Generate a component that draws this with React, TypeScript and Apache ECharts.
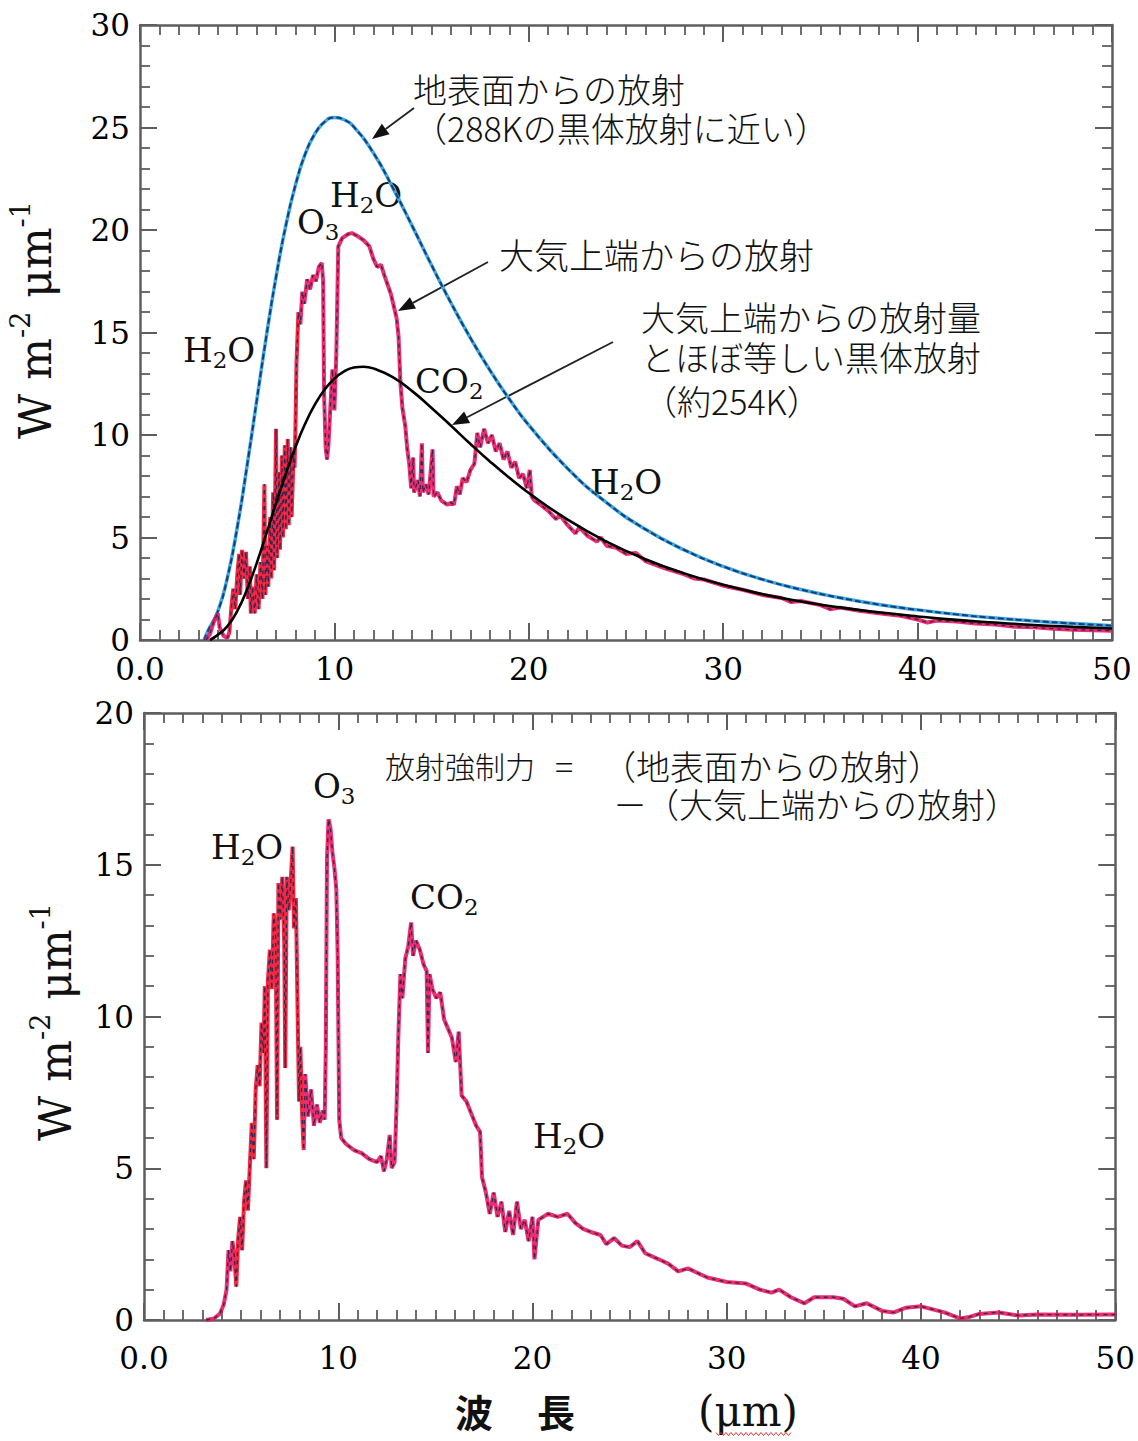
import React, { useEffect, useRef } from 'react';
import * as echarts from 'echarts';

// ---------- data (wavelength μm, W m-2 μm-1) ----------
const surfaceEmission288K: [number, number][] = [
  [3.3, 0], [3.5, 0.45], [4, 1.38], [4.5, 3.06], [5, 5.48], [5.5, 8.45], [6, 11.65], [6.5, 14.82],
  [7, 17.72], [7.5, 20.21], [8, 22.2], [8.5, 23.71], [9, 24.7], [9.5, 25.28], [10, 25.49], [10.5, 25.38],
  [11, 25.03], [12, 23.77], [13, 22.07], [14, 20.2], [15, 18.28], [16, 16.44], [17, 14.73], [18, 13.16],
  [19, 11.75], [20, 10.48], [22, 8.36], [24, 6.7], [26, 5.4], [28, 4.39], [30, 3.59], [32, 2.96],
  [34, 2.46], [36, 2.06], [38, 1.73], [40, 1.47], [42, 1.25], [44, 1.07], [46, 0.93], [48, 0.8], [50, 0.7],
];

const blackbody254K: [number, number][] = [
  [3.6, 0], [4, 0.25], [4.5, 0.68], [5, 1.41], [5.5, 2.45], [6, 3.74], [6.5, 5.19], [7, 6.68],
  [7.5, 8.11], [8, 9.42], [8.5, 10.56], [9, 11.49], [9.5, 12.22], [10, 12.75], [10.5, 13.1], [11, 13.29],
  [11.5, 13.33], [12, 13.25], [13, 12.82], [14, 12.14], [15, 11.32], [16, 10.45], [17, 9.56], [18, 8.71],
  [19, 7.91], [20, 7.17], [22, 5.87], [24, 4.8], [26, 3.94], [28, 3.25], [30, 2.69], [32, 2.24],
  [34, 1.88], [36, 1.59], [38, 1.35], [40, 1.15], [42, 0.98], [44, 0.85], [46, 0.73], [48, 0.64], [50, 0.56],
];

const toaEmission: [number, number][] = [
  [3.4, 0], [3.6, 0.3], [3.8, 0.9], [4.0, 1.3], [4.1, 0.6], [4.3, 0.2], [4.5, 0.1], [4.6, 0.4],
  [4.7, 1.6], [4.8, 2.5], [4.9, 1.5], [5.0, 3.1], [5.1, 4.2], [5.15, 2.2], [5.25, 4.4], [5.35, 3.0],
  [5.45, 4.3], [5.55, 2.0], [5.65, 3.6], [5.7, 1.3], [5.8, 2.6], [5.9, 1.3], [6.0, 3.2], [6.1, 1.5],
  [6.2, 3.8], [6.3, 2.0], [6.4, 7.6], [6.45, 2.2], [6.55, 4.6], [6.6, 2.6], [6.7, 6.0], [6.75, 3.0],
  [6.85, 7.2], [6.9, 3.4], [7.0, 10.3], [7.05, 4.0], [7.15, 8.2], [7.2, 4.4], [7.3, 9.0], [7.35, 5.0],
  [7.45, 9.5], [7.5, 5.4], [7.6, 9.8], [7.65, 5.6], [7.75, 9.4], [7.8, 6.0], [7.9, 9.0], [7.95, 8.4],
  [8.0, 10.5], [8.05, 13.5], [8.15, 16.0], [8.25, 15.4], [8.35, 17.0], [8.45, 16.4], [8.6, 17.6], [8.75, 17.1],
  [8.9, 17.8], [9.05, 17.5], [9.2, 18.2], [9.35, 18.4], [9.42, 17.5], [9.47, 12.0], [9.55, 9.4], [9.62, 8.8],
  [9.7, 9.6], [9.8, 11.5], [9.9, 13.2], [10.0, 11.2], [10.1, 14.0], [10.2, 19.2], [10.4, 19.6], [10.7, 19.8],
  [10.9, 19.85], [11.2, 19.7], [11.5, 19.5], [11.8, 19.2], [12.0, 18.6], [12.2, 18.2], [12.4, 18.3], [12.6, 17.7],
  [12.9, 16.9], [13.2, 15.7], [13.3, 14.8], [13.4, 12.5], [13.5, 11.3], [13.65, 10.4], [13.75, 9.3], [13.85, 8.6],
  [13.95, 7.4], [14.05, 8.9], [14.1, 7.2], [14.3, 7.8], [14.4, 7.0], [14.5, 9.6], [14.55, 7.2], [14.7, 7.6],
  [14.85, 7.1], [15.05, 9.3], [15.1, 7.0], [15.3, 7.2], [15.5, 6.8], [15.8, 6.6], [16.0, 6.7], [16.15, 6.6],
  [16.3, 7.5], [16.45, 7.1], [16.6, 7.9], [16.8, 7.7], [17.0, 8.3], [17.2, 8.6], [17.35, 10.1], [17.5, 9.4],
  [17.7, 10.3], [17.9, 9.6], [18.1, 10.0], [18.3, 9.2], [18.5, 9.6], [18.7, 8.8], [18.9, 9.2], [19.1, 8.4],
  [19.3, 8.7], [19.5, 7.9], [19.7, 8.1], [19.9, 7.4], [20.05, 8.3], [20.15, 7.0], [20.3, 6.8], [20.6, 6.6],
  [21.0, 6.3], [21.4, 5.9], [21.6, 6.1], [22.0, 5.6], [22.4, 5.2], [22.6, 5.5], [23.0, 5.1], [23.5, 4.8],
  [23.7, 5.0], [24.0, 4.6], [24.5, 4.5], [25.0, 4.2], [25.5, 4.25], [26.0, 3.85], [27.0, 3.5], [28.0, 3.2],
  [28.5, 3.0], [29.0, 2.95], [30.0, 2.65], [31.0, 2.45], [32.0, 2.2], [33.0, 2.05], [33.5, 1.85], [34.0, 1.9],
  [35.0, 1.7], [35.5, 1.5], [36.0, 1.58], [37.0, 1.42], [38.0, 1.3], [39.0, 1.2], [40.0, 1.0], [40.5, 0.85],
  [41.0, 0.95], [42.0, 0.9], [43.0, 0.8], [44.0, 0.75], [45.0, 0.65], [46.0, 0.62], [47.0, 0.55], [48.0, 0.5],
  [49.0, 0.48], [50.0, 0.45],
];

const radiativeForcing: [number, number][] = [
  [3.2, 0], [3.6, 0.05], [3.9, 0.2], [4.1, 0.5], [4.25, 1.0], [4.35, 2.3], [4.45, 1.6], [4.55, 2.6],
  [4.65, 2.1], [4.75, 1.1], [4.85, 2.7], [4.95, 3.4], [5.05, 2.3], [5.15, 3.9], [5.25, 4.6], [5.35, 3.6],
  [5.45, 5.1], [5.55, 6.5], [5.65, 5.3], [5.75, 7.6], [5.85, 8.4], [5.95, 7.7], [6.05, 9.8], [6.15, 8.8],
  [6.22, 11.0], [6.3, 5.0], [6.38, 11.2], [6.48, 12.2], [6.58, 10.9], [6.68, 13.4], [6.78, 12.6], [6.85, 6.6],
  [6.92, 14.4], [7.02, 13.2], [7.12, 14.6], [7.22, 12.4], [7.27, 8.3], [7.35, 14.6], [7.45, 13.5], [7.55, 14.4],
  [7.65, 15.6], [7.72, 12.9], [7.82, 13.9], [7.9, 10.5], [7.98, 7.2], [8.05, 9.0], [8.15, 6.6], [8.22, 5.6],
  [8.3, 8.1], [8.45, 6.7], [8.6, 7.6], [8.75, 6.4], [8.9, 7.1], [9.05, 6.5], [9.2, 6.9], [9.3, 6.6],
  [9.36, 9.0], [9.42, 15.2], [9.5, 16.5], [9.6, 16.2], [9.7, 15.4], [9.8, 14.9], [9.9, 14.2], [9.97, 12.0],
  [10.05, 6.6], [10.15, 6.0], [10.4, 5.8], [10.8, 5.6], [11.2, 5.5], [11.6, 5.3], [12.0, 5.2], [12.2, 5.4],
  [12.35, 4.9], [12.5, 5.3], [12.65, 6.1], [12.75, 5.0], [12.9, 5.2], [13.0, 7.0], [13.1, 9.5], [13.2, 11.4],
  [13.3, 10.6], [13.45, 11.9], [13.6, 12.3], [13.75, 13.1], [13.85, 12.0], [14.0, 12.5], [14.2, 12.2], [14.4, 11.7],
  [14.55, 11.5], [14.62, 8.8], [14.7, 11.4], [14.85, 10.9], [15.05, 10.6], [15.25, 10.8], [15.45, 9.9], [15.65, 9.6],
  [15.85, 9.3], [16.05, 8.5], [16.2, 9.5], [16.35, 7.4], [16.6, 7.2], [16.85, 6.8], [17.1, 6.4], [17.3, 6.2],
  [17.4, 4.7], [17.6, 4.2], [17.8, 3.5], [18.0, 4.2], [18.2, 3.4], [18.4, 3.9], [18.6, 2.9], [18.8, 3.6],
  [19.0, 2.8], [19.2, 3.9], [19.4, 3.0], [19.6, 3.3], [19.8, 2.6], [20.0, 3.4], [20.1, 2.0], [20.3, 3.3],
  [20.8, 3.5], [21.3, 3.4], [21.8, 3.5], [22.2, 3.2], [22.6, 3.0], [23.0, 2.9], [23.5, 2.8], [23.8, 2.5],
  [24.2, 2.7], [24.6, 2.45], [25.0, 2.4], [25.4, 2.6], [25.8, 2.2], [26.5, 2.0], [27.0, 1.85], [27.5, 1.6],
  [28.0, 1.7], [28.5, 1.55], [29.0, 1.4], [30.0, 1.25], [31.0, 1.2], [31.7, 1.0], [32.3, 0.9], [32.7, 1.0],
  [33.3, 0.75], [34.0, 0.55], [34.5, 0.75], [35.5, 0.75], [36.0, 0.7], [36.6, 0.45], [37.2, 0.55], [38.0, 0.3],
  [38.6, 0.25], [39.2, 0.4], [40.0, 0.45], [40.6, 0.35], [41.2, 0.25], [42.0, 0.05], [42.5, 0.1], [43.0, 0.2],
  [44.0, 0.25], [45.0, 0.15], [46.0, 0.18], [48.0, 0.17], [50.0, 0.18],
];

const xRange = [0, 50];
const xInterval = 10;
const topYRange = [0, 30];
const bottomYRange = [0, 20];
const yInterval = 5;
const denseRedBand = [4.6, 8.2]; // wavelength span drawn in bright red

// ---------- styles ----------
const FRAME = '#5e5e5e';
const SERIF = '"DejaVu Serif", serif';
const JP = '"Noto Sans CJK JP", sans-serif';
const TEXT = '#111';
const MAGENTA = '#e8175f';
const RED = '#f2102c';

function xAxisCfg(gridIndex: number, position: string, showLabel: boolean, margin: number) {
  return {
    type: 'value', gridIndex, position, min: xRange[0], max: xRange[1], interval: xInterval,
    axisLine: { show: true, onZero: false, lineStyle: { color: FRAME, width: 2.5 } },
    axisTick: { show: true, inside: true, length: 17, lineStyle: { color: FRAME, width: 2 } },
    minorTick: { show: true, splitNumber: 10, length: 10, lineStyle: { color: FRAME, width: 1.8 } },
    splitLine: { show: false },
    axisLabel: {
      show: showLabel, margin, color: '#000', fontFamily: SERIF, fontSize: 31,
      formatter: (v: number) => (v === 0 ? '0.0' : String(v)),
    },
  };
}

function yAxisCfg(gridIndex: number, position: string, showLabel: boolean, range: number[]) {
  return {
    type: 'value', gridIndex, position, min: range[0], max: range[1], interval: yInterval,
    axisLine: { show: true, onZero: false, lineStyle: { color: FRAME, width: 2.5 } },
    axisTick: { show: true, inside: true, length: 17, lineStyle: { color: FRAME, width: 2 } },
    minorTick: { show: true, splitNumber: 5, length: 10, lineStyle: { color: FRAME, width: 1.8 } },
    splitLine: { show: false },
    axisLabel: { show: showLabel, margin: 10, color: '#000', fontFamily: SERIF, fontSize: 31 },
  };
}

function spectrum(data: [number, number][], axis: number) {
  return [
    {
      // colour comes from the visualMap (bright red in the dense band, magenta elsewhere)
      type: 'line', xAxisIndex: axis, yAxisIndex: axis, data, showSymbol: false, silent: true,
      lineStyle: { width: 4, opacity: 0.9 },
    },
    {
      type: 'line', xAxisIndex: axis, yAxisIndex: axis, data, showSymbol: false, silent: true,
      lineStyle: { color: '#3a2350', width: 1.3, type: [4, 4] },
    },
  ];
}

function arrow(tx: number, ty: number, px: number, py: number) {
  const dx = px - tx, dy = py - ty;
  const L = Math.hypot(dx, dy);
  const ux = dx / L, uy = dy / L;
  const hl = 17, hw = 6.5;
  const bx = px - ux * hl, by = py - uy * hl;
  return [
    { type: 'line', shape: { x1: tx, y1: ty, x2: bx, y2: by }, style: { stroke: '#222', lineWidth: 1.8 } },
    {
      type: 'polygon',
      shape: { points: [[px, py], [bx - uy * hw, by + ux * hw], [bx + uy * hw, by - ux * hw]] },
      style: { fill: '#111' },
    },
  ];
}

function jp(text: string, x: number, y: number, align = 'left', size = 34) {
  return {
    type: 'text', x, y,
    style: {
      text, fill: TEXT, fontFamily: JP, fontSize: size, fontWeight: 300, lineHeight: size,
      align, textAlign: align, verticalAlign: 'middle', textVerticalAlign: 'middle',
    },
  };
}

function formula(text: string, x: number, y: number) {
  return {
    type: 'text', x, y,
    style: {
      text, fill: TEXT, fontFamily: SERIF, fontSize: 34,
      align: 'left', textAlign: 'left', verticalAlign: 'middle', textVerticalAlign: 'middle',
      rich: {
        m: { fontFamily: SERIF, fontSize: 34, lineHeight: 42, fill: TEXT },
        s: { fontFamily: SERIF, fontSize: 23, lineHeight: 23, verticalAlign: 'bottom', fill: TEXT },
      },
    },
  };
}

function yName(x: number, y: number) {
  return {
    type: 'text', x, y, rotation: Math.PI / 2,
    style: {
      text: '{n|W m}{s|-2}{n| μm}{s|-1}', fill: TEXT, fontFamily: SERIF, fontSize: 44,
      align: 'center', textAlign: 'center', verticalAlign: 'middle', textVerticalAlign: 'middle',
      rich: {
        n: { fontFamily: SERIF, fontSize: 44, lineHeight: 56, fill: TEXT },
        s: { fontFamily: SERIF, fontSize: 27, lineHeight: 32, verticalAlign: 'top', fill: TEXT },
      },
    },
  };
}

function wavy(x1: number, x2: number, y: number) {
  const pts: number[][] = [];
  let up = true;
  for (let x = x1; x <= x2; x += 2.5) { pts.push([x, up ? y - 1.5 : y + 1.5]); up = !up; }
  return { type: 'polyline', shape: { points: pts }, style: { stroke: '#e23030', lineWidth: 1, fill: null } };
}

function bigLabel(text: string, x: number, y: number, family: string, weight: string | number, size: number) {
  return {
    type: 'text', x, y,
    style: {
      text, fill: TEXT, fontFamily: family, fontSize: size, fontWeight: weight,
      align: 'center', textAlign: 'center', verticalAlign: 'middle', textVerticalAlign: 'middle',
    },
  };
}

export default function App() {
  const ref = useRef<HTMLDivElement>(null);
  useEffect(() => {
    if (!ref.current) return;
    const chart = echarts.init(ref.current, null, { renderer: 'svg' });
    chart.setOption({
      animation: false,
      backgroundColor: '#ffffff',
      grid: [
        { left: 140, top: 25, width: 972, height: 615 },
        { left: 144, top: 713, width: 973, height: 607 },
      ],
      xAxis: [
        xAxisCfg(0, 'bottom', true, 13),
        xAxisCfg(0, 'top', false, 8),
        xAxisCfg(1, 'bottom', true, 22),
        xAxisCfg(1, 'top', false, 8),
      ],
      yAxis: [
        yAxisCfg(0, 'left', true, topYRange),
        yAxisCfg(0, 'right', false, topYRange),
        yAxisCfg(1, 'left', true, bottomYRange),
        yAxisCfg(1, 'right', false, bottomYRange),
      ],
      visualMap: {
        type: 'piecewise', show: false, dimension: 0, seriesIndex: [2, 5],
        pieces: [
          { lt: denseRedBand[0], color: MAGENTA },
          { gte: denseRedBand[0], lt: denseRedBand[1], color: RED },
          { gte: denseRedBand[1], color: MAGENTA },
        ],
      },
      series: [
        {
          type: 'line', xAxisIndex: 0, yAxisIndex: 0, data: surfaceEmission288K, smooth: true,
          showSymbol: false, silent: true, lineStyle: { color: '#38aae2', width: 3.5 },
        },
        {
          type: 'line', xAxisIndex: 0, yAxisIndex: 0, data: surfaceEmission288K, smooth: true,
          showSymbol: false, silent: true, lineStyle: { color: '#1c3a78', width: 2, type: [6, 3] },
        },
        ...spectrum(toaEmission, 0),
        {
          type: 'line', xAxisIndex: 0, yAxisIndex: 0, data: blackbody254K, smooth: true,
          showSymbol: false, silent: true, lineStyle: { color: '#000', width: 2.6 },
        },
        ...spectrum(radiativeForcing, 2),
      ],
      graphic: [
        // top panel annotations
        jp('地表面からの放射', 413, 88),
        jp('（288Kの黒体放射に近い）', 413, 127),
        ...arrow(414, 108, 372, 139),
        jp('大気上端からの放射', 499, 253, 'left', 35),
        ...arrow(488, 262, 398, 311),
        jp('大気上端からの放射量', 641, 316, 'left', 34),
        jp('とほぼ等しい黒体放射', 641, 356, 'left', 34),
        jp('（約254K）', 643, 400),
        ...arrow(613, 342, 452, 425),
        formula('{m|H}{s|2}{m|O}', 330, 195),
        formula('{m|O}{s|3}', 297, 222),
        formula('{m|H}{s|2}{m|O}', 183, 350),
        formula('{m|CO}{s|2}', 415, 381),
        formula('{m|H}{s|2}{m|O}', 590, 482),
        // bottom panel annotations
        jp('放射強制力', 385, 765, 'left', 30),
        jp('=', 564, 765, 'center'),
        jp('（地表面からの放射）', 602, 765),
        jp('－', 630, 803, 'center'),
        jp('（大気上端からの放射）', 645, 803),
        formula('{m|O}{s|3}', 313, 786),
        formula('{m|H}{s|2}{m|O}', 211, 847),
        formula('{m|CO}{s|2}', 410, 897),
        formula('{m|H}{s|2}{m|O}', 533, 1136),
        // axis titles
        yName(35, 320),
        yName(55, 1022),
        bigLabel('波', 474, 1410, JP, 'bold', 38),
        bigLabel('長', 556, 1410, JP, 'bold', 38),
        bigLabel('(μm)', 748, 1411, SERIF, 'normal', 42),
        wavy(716, 792, 1434),
      ],
    });
    return () => chart.dispose();
  }, []);
  return (
    <div
      ref={ref}
      style={{ position: 'absolute', left: 0, top: 0, width: 1138, height: 1441, background: '#fff' }}
    />
  );
}
